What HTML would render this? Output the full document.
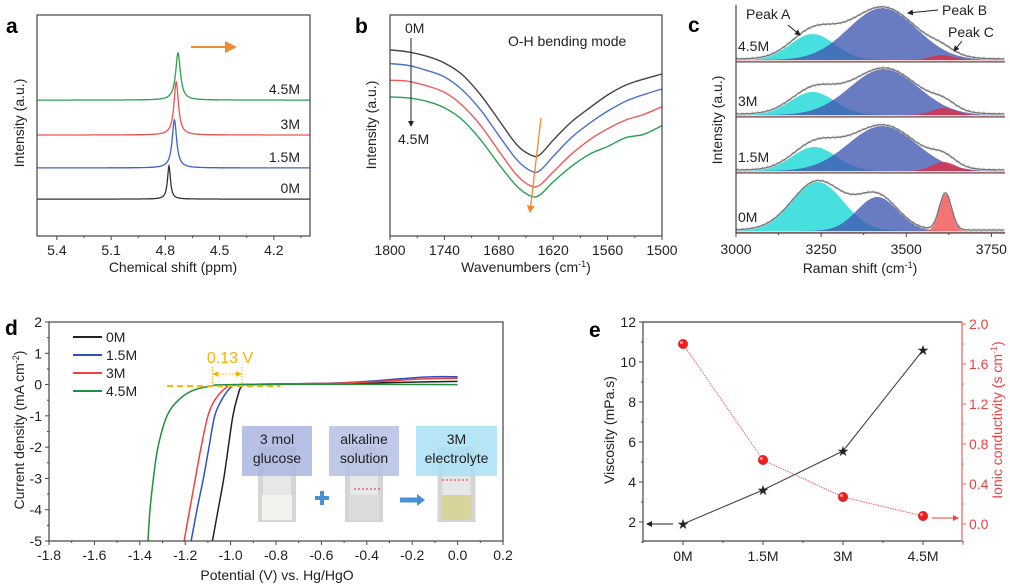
<!DOCTYPE html>
<html><head><meta charset="utf-8">
<style>
body{margin:0;background:#fff;}
svg{display:block;font-family:"Liberation Sans",Arial,sans-serif;}
.tk{font-size:14px;fill:#222;}
.ttl{font-size:14px;fill:#222;}
.pl{font-size:21px;font-weight:bold;fill:#000;}
</style></head>
<body>
<svg id="fig" width="1010" height="588" viewBox="0 0 1010 588">
<defs>
<marker id="ah" markerWidth="6" markerHeight="6" refX="5" refY="3" orient="auto"><path d="M0,0 L6,3 L0,6 z" fill="#222"/></marker>
<marker id="aho" markerWidth="6" markerHeight="6" refX="5" refY="3" orient="auto"><path d="M0,0 L6,3 L0,6 z" fill="#f08a30"/></marker>
<marker id="ahr" markerWidth="6" markerHeight="6" refX="5" refY="3" orient="auto"><path d="M0,0 L6,3 L0,6 z" fill="#f04040"/></marker>
<marker id="ahy" markerWidth="6" markerHeight="6" refX="5" refY="3" orient="auto"><path d="M0,0 L6,3 L0,6 z" fill="#f5b400"/></marker>
<marker id="ahys" markerWidth="6" markerHeight="6" refX="1" refY="3" orient="auto"><path d="M6,0 L0,3 L6,6 z" fill="#f5b400"/></marker>
</defs>
</svg>
<script>
// ---------- DATA ----------
// panel a
const aLabels = ["0M","1.5M","3M","4.5M"];
const aBaselines = [16.7,30.8,45.7,61.5];
const aPeakCenters = [4.78,4.75,4.74,4.73];
const aPeakHeights = [15,21.7,24,21.3];
const aPeakWidths = [0.010,0.015,0.015,0.016];
const aTicks = [5.4,5.1,4.8,4.5,4.2];
// panel b
const bWavenumbers = [1800,1780,1760,1740,1720,1700,1680,1660,1645,1635,1620,1600,1580,1560,1540,1520,1500];
const b0M = [84.2,83.3,81.4,78.3,72.9,63.8,52.5,41.2,36.7,36.7,43.4,51.6,57.9,63.8,68.3,71.0,73.3];
const b15M = [78.0,77.2,75.0,72.0,66.0,57.0,45.5,34.5,29.5,29.5,36.0,44.5,51.0,56.5,61.0,64.0,66.5];
const b3M = [70.5,70.0,68.0,65.0,59.0,50.0,38.5,27.5,22.7,23.0,29.0,37.0,43.5,48.5,52.5,55.0,58.5];
const b45M = [62.9,62.5,61.0,58.0,52.5,43.5,32.5,22.5,18.1,18.5,24.5,31.5,37.0,40.5,44.5,46.0,50.0];
const bTicks = [1800,1740,1680,1620,1560,1500];
// panel c (rows top to bottom: 4.5M,3M,1.5M,0M)
const cLabels = ["4.5M","3M","1.5M","0M"];
const cPeakACenter = [3225,3225,3230,3240];
const cPeakAHeight = [26,23,24,49];
const cPeakAWidth = [65,65,65,75];
const cPeakBCenter = [3430,3435,3430,3415];
const cPeakBHeight = [52,46,45,34];
const cPeakBWidth = [100,100,100,60];
const cPeakCCenter = [3605,3610,3610,3615];
const cPeakCHeight = [5,7,9,37];
const cPeakCWidth = [35,35,35,18];
const cTicks = [3000,3250,3500,3750];
// panel d
const d0MV = [-1.08,-1.055,-1.03,-1.01,-0.99,-0.97,-0.95,-0.9,-0.5,-0.2,0];
const d0MJ = [-5,-4,-3,-2,-1,-0.4,-0.05,0,0.03,0.08,0.1];
const d15MV = [-1.174,-1.148,-1.12,-1.095,-1.07,-1.04,-1.0,-0.95,-0.5,-0.15,0];
const d15MJ = [-5,-4,-3,-2,-1,-0.5,-0.1,0,0.06,0.24,0.25];
const d3MV = [-1.205,-1.18,-1.155,-1.13,-1.1,-1.07,-1.02,-0.97,-0.5,-0.15,0];
const d3MJ = [-5,-4,-3,-2,-1,-0.5,-0.1,0,0.05,0.18,0.2];
const d45MV = [-1.364,-1.355,-1.34,-1.32,-1.28,-1.23,-1.17,-1.09,-1.0,-0.5,0];
const d45MJ = [-5,-4,-3,-2,-1,-0.5,-0.2,-0.05,0,0.01,0];
const dXTicks = [-1.8,-1.6,-1.4,-1.2,-1.0,-0.8,-0.6,-0.4,-0.2,0.0,0.2];
const dYTicks = [2,1,0,-1,-2,-3,-4,-5];
// panel e
const eCategories = ["0M","1.5M","3M","4.5M"];
const eViscosity = [1.9,3.6,5.55,10.6];
const eConductivity = [1.8,0.64,0.27,0.08];
const eLeftTicks = [2,4,6,8,10,12];
const eRightTicks = [0.0,0.4,0.8,1.2,1.6,2.0];

// ---------- HELPERS ----------
const svg = document.getElementById('fig');
const NS = 'http://www.w3.org/2000/svg';
function mk(tag, attrs, parent){ const e=document.createElementNS(NS,tag); for(const k in attrs) e.setAttribute(k,attrs[k]); (parent||svg).appendChild(e); return e; }
function txt(x,y,s,cls,anchor,parent,extra){
 const ex=Object.assign({},extra||{}); let st='';
 if(ex.fill){ st+='fill:'+ex.fill+';'; delete ex.fill; }
 if(ex['font-size']){ st+='font-size:'+ex['font-size']+'px;'; delete ex['font-size']; }
 const a=Object.assign({x:x,y:y,class:cls,'text-anchor':anchor||'middle'},ex); if(st) a.style=st;
 const t=mk('text',a,parent); t.textContent=s; return t; }
function lin(d0,d1,r0,r1){ return v=> r0+(v-d0)/(d1-d0)*(r1-r0); }
function pts(xs,ys,fx,fy){ return xs.map((v,i)=>fx(v).toFixed(1)+','+fy(ys[i]).toFixed(1)).join(' '); }
function smooth(xs,ys,fx,fy){
 const P=xs.map((v,i)=>[fx(v),fy(ys[i])]);
 let d='M'+P[0][0].toFixed(1)+','+P[0][1].toFixed(1);
 for(let i=0;i<P.length-1;i++){
  const p0=P[Math.max(0,i-1)],p1=P[i],p2=P[i+1],p3=P[Math.min(P.length-1,i+2)];
  const c1=[p1[0]+(p2[0]-p0[0])/6,p1[1]+(p2[1]-p0[1])/6], c2=[p2[0]-(p3[0]-p1[0])/6,p2[1]-(p3[1]-p1[1])/6];
  d+=' C'+c1.map(v=>v.toFixed(1)).join(',')+' '+c2.map(v=>v.toFixed(1)).join(',')+' '+p2.map(v=>v.toFixed(1)).join(',');
 }
 return d;
}
function box(x0,y0,x1,y1,g){ mk('rect',{x:x0,y:y0,width:x1-x0,height:y1-y0,fill:'none',stroke:'#444','stroke-width':1.2},g); }

// ---------- PANEL A ----------
(function(){
 const g=mk('g',{});
 
 
 const X=lin(5.51,4.0,37,310), Y=lin(0,100,236,15);
 const cols=['#333','#3a62c8','#f05050','#2aa050'];
 for(let i=0;i<4;i++){
  const xs=[],ys=[];
  for(let p=5.51;p>=4.0;p-=0.002){ xs.push(p); const d=(p-aPeakCenters[i])/aPeakWidths[i]; ys.push(aBaselines[i]+aPeakHeights[i]/(1+d*d)); }
  const l=mk('polyline',{points:pts(xs,ys,X,Y),fill:'none',stroke:cols[i],'stroke-width':1.3},g);
  
  
  const t=txt(300,Y(aBaselines[i])-6,aLabels[i],'tk','end',g);
  
  
 }
 box(37,15,310,236,g);
 aTicks.forEach(v=>{ mk('line',{x1:X(v),x2:X(v),y1:236,y2:240,stroke:'#444'},g); txt(X(v),255,v.toFixed(1),'tk','middle',g); mk('line',{x1:X(v-0.15),x2:X(v-0.15),y1:236,y2:238,stroke:'#444'},g); });
 mk('line',{x1:191,y1:47,x2:235,y2:47,stroke:'#f08a30','stroke-width':2,'marker-end':'url(#aho)'},g);
 txt(173,272,'Chemical shift (ppm)','ttl','middle',g);
 txt(0,0,'Intensity (a.u.)','ttl','middle',g,{transform:'translate(24,123) rotate(-90)'});
 txt(6,33,'a','pl','start',g);
})();

// ---------- PANEL B ----------
(function(){
 const g=mk('g',{});
 
 
 const X=lin(1800,1500,390,662), Y=lin(0,100,236,15);
 const series=[b0M,b15M,b3M,b45M], cols=['#444','#4a70d0','#f05a5a','#2aa050'], names=['0M','1.5M','3M','4.5M'];
 series.forEach((s,i)=>{ const l=mk('path',{d:smooth(bWavenumbers,s,X,Y),fill:'none',stroke:cols[i],'stroke-width':1.4},g);
  
   });
 box(390,15,662,236,g);
 bTicks.forEach(v=>{ mk('line',{x1:X(v),x2:X(v),y1:236,y2:240,stroke:'#444'},g); txt(X(v),255,String(v),'tk','middle',g); if(v>1500) mk('line',{x1:X(v-30),x2:X(v-30),y1:236,y2:238,stroke:'#444'},g); });
 txt(405,33,'0M','tk','start',g); txt(398,144,'4.5M','tk','start',g);
 mk('line',{x1:411,y1:38,x2:411,y2:126,stroke:'#222','stroke-width':1,'marker-end':'url(#ah)'},g);
 txt(508,46,'O-H bending mode','tk','start',g);
 mk('line',{x1:541,y1:118,x2:530,y2:212,stroke:'#f08a30','stroke-width':1.3,'marker-end':'url(#aho)'},g);
 const t=txt(526,272,'Wavenumbers (cm','ttl','middle',g); const ts=mk('tspan',{dy:-5,'font-size':9},t); ts.textContent='-1'; const t2=mk('tspan',{dy:5},t); t2.textContent=')';
 txt(0,0,'Intensity (a.u.)','ttl','middle',g,{transform:'translate(376,125) rotate(-90)'});
 txt(355,33,'b','pl','start',g);
})();

// ---------- PANEL C ----------
(function(){
 const g=mk('g',{});
 
 
 const X=lin(3000,3790,736,1005);
 const bases=[60,115,171,231];
 for(let i=0;i<4;i++){
  const Y=v=>bases[i]-v;
  const xs=[]; for(let w=3000;w<=3790;w+=4) xs.push(w);
  const gs=(c,h,s)=>xs.map(w=>h*Math.exp(-0.5*((w-c)/s)**2));
  const A=gs(cPeakACenter[i],cPeakAHeight[i],cPeakAWidth[i]);
  const B=gs(cPeakBCenter[i],cPeakBHeight[i],cPeakBWidth[i]);
  const C=gs(cPeakCCenter[i],cPeakCHeight[i],cPeakCWidth[i]);
  const area=(arr)=> 'M'+X(3000)+','+Y(0)+' L'+pts(xs,arr,X,Y).split(' ').join(' L')+' L'+X(3790)+','+Y(0)+' Z';
  const pa=mk('path',{d:area(A),fill:'#38dcdc',opacity:0.92},g);
  
  
  const pb=mk('path',{d:area(B),fill:'#3f56b0',opacity:0.78},g);
  
  
  const pc=mk('path',{d:area(C),fill:i==3?'#f55a5a':'#d8304a',opacity:0.85},g);
  
  
  const S=xs.map((w,k)=>A[k]+B[k]+C[k]+1);
  mk('polyline',{points:pts(xs,S.map((v,k)=>v+1.5*Math.sin(k*1.7)),X,Y),fill:'none',stroke:'#ccc','stroke-width':1},g);
  const env=mk('polyline',{points:pts(xs,S,X,Y),fill:'none',stroke:'#777','stroke-width':1.3},g);
  
  
  mk('line',{x1:736,x2:1005,y1:bases[i]+1,y2:bases[i]+1,stroke:'#f0a0a0','stroke-width':1},g);
  txt(738,bases[i]-9,cLabels[i],'tk','start',g);
  if(i<3) mk('line',{x1:736,x2:1005,y1:bases[i]+2,y2:bases[i]+2,stroke:'#444','stroke-width':1},g);
 }
 mk('line',{x1:736,y1:5,x2:736,y2:233,stroke:'#444','stroke-width':1.2},g);
 mk('line',{x1:736,y1:233,x2:1005,y2:233,stroke:'#444','stroke-width':1.2},g);
 cTicks.forEach(v=>{ mk('line',{x1:X(v),x2:X(v),y1:233,y2:237,stroke:'#444'},g); txt(X(v),254,String(v),'tk','middle',g); mk('line',{x1:X(v+125),x2:X(v+125),y1:233,y2:235,stroke:'#444'},g); });
 txt(746,19,'Peak A','tk','start',g); txt(942,15,'Peak B','tk','start',g); txt(948,37,'Peak C','tk','start',g);
 mk('line',{x1:788,y1:25,x2:800,y2:35,stroke:'#222','marker-end':'url(#ah)'},g);
 mk('line',{x1:938,y1:10,x2:908,y2:13,stroke:'#222','marker-end':'url(#ah)'},g);
 mk('line',{x1:962,y1:41,x2:954,y2:51,stroke:'#222','marker-end':'url(#ah)'},g);
 const t=txt(860,273,'Raman shift (cm','ttl','middle',g); const ts=mk('tspan',{dy:-5,'font-size':9},t); ts.textContent='-1'; const t2=mk('tspan',{dy:5},t); t2.textContent=')';
 txt(0,0,'Intensity (a.u.)','ttl','middle',g,{transform:'translate(722,120) rotate(-90)'});
 txt(688,32,'c','pl','start',g);
})();

// ---------- PANEL D ----------
(function(){
 const g=mk('g',{});
 
 
 const X=lin(-1.8,0.2,49,503), Y=lin(2,-5,322,541);
 const ins=[[242,426,312,476,'#a9b6e0','3 mol','glucose','#f2f2ee'],[329,426,399,476,'#b4bfe4','alkaline','solution','#dcdcdc'],[416,426,497,476,'#a8e0f4','3M','electrolyte','#d6d49a']];
 ins.forEach((b,k)=>{
  const vx=(b[0]+b[2])/2;
  const v=mk('rect',{x:vx-19,y:447,width:38,height:75,fill:'#d4d5d5'},g);
  
  
  mk('rect',{x:vx-14,y:455,width:28,height:65,fill:'#e6e8e8'},g);
  mk('rect',{x:vx-15,y:495,width:30,height:25,fill:b[7]},g);
  const r=mk('rect',{x:b[0],y:b[1],width:b[2]-b[0],height:b[3]-b[1],fill:b[4],opacity:0.85},g);
  
  
  txt(vx,b[1]+18,b[5],'tk','middle',g); txt(vx,b[1]+37,b[6],'tk','middle',g);
 });
 mk('line',{x1:354,x2:380,y1:489,y2:489,stroke:'#e03030','stroke-dasharray':'2,2'},g);
 mk('line',{x1:442,x2:470,y1:480,y2:480,stroke:'#e03030','stroke-dasharray':'2,2'},g);
 mk('rect',{x:315,y:496,width:14,height:4,fill:'#4a90d8'},g);
 mk('rect',{x:320,y:491,width:4,height:14,fill:'#4a90d8'},g);
 mk('line',{x1:400,x2:418,y1:500,y2:500,stroke:'#4a90d8','stroke-width':5},g);
 mk('path',{d:'M417,494 L425,500 L417,506 Z',fill:'#4a90d8'},g);
 const S=[[d0MV,d0MJ,'#222','0M'],[d15MV,d15MJ,'#3050c0','1.5M'],[d3MV,d3MJ,'#f04040','3M'],[d45MV,d45MJ,'#20903a','4.5M']];
 S.forEach(s=>{ const l=mk('path',{d:smooth(s[0],s[1],X,Y),fill:'none',stroke:s[2],'stroke-width':1.5},g);
  
   });
 mk('line',{x1:X(-1.28),x2:X(-0.78),y1:Y(-0.05),y2:Y(-0.05),stroke:'#f5b400','stroke-width':2,'stroke-dasharray':'6,4'},g);
 mk('line',{x1:X(-1.08),x2:X(-1.08),y1:367,y2:386,stroke:'#f5b400','stroke-dasharray':'1.5,1.5'},g);
 mk('line',{x1:X(-0.95),x2:X(-0.95),y1:367,y2:386,stroke:'#f5b400','stroke-dasharray':'1.5,1.5'},g);
 mk('line',{x1:X(-1.08)+1,x2:X(-0.95)-1,y1:374,y2:374,stroke:'#f5b400','stroke-dasharray':'1.5,1.5','marker-end':'url(#ahy)','marker-start':'url(#ahys)'},g);
 txt(230,363,'0.13 V','tk','middle',g,{fill:'#f5b400','font-size':'16'});
 S.forEach((s,k)=>{ const yy=337+k*18; const lg=mk('line',{x1:73,x2:102,y1:yy,y2:yy,stroke:s[2],'stroke-width':2},g);
  
  
  txt(106,yy+5,s[3],'tk','start',g); });
 box(49,322,503,541,g);
 dXTicks.forEach(v=>{ mk('line',{x1:X(v),x2:X(v),y1:541,y2:545,stroke:'#444'},g); txt(X(v),560,v.toFixed(1),'tk','middle',g); if(v<0.2) mk('line',{x1:X(v+0.1),x2:X(v+0.1),y1:541,y2:543,stroke:'#444'},g); });
 dYTicks.forEach(v=>{ mk('line',{x1:45,x2:49,y1:Y(v),y2:Y(v),stroke:'#444'},g); txt(42,Y(v)+5,String(v),'tk','end',g); if(v>-5) mk('line',{x1:47,x2:49,y1:Y(v-0.5),y2:Y(v-0.5),stroke:'#444'},g); });
 txt(277,580,'Potential (V) vs. Hg/HgO','ttl','middle',g);
 const t=txt(0,0,'Current density (mA cm','ttl','middle',g,{transform:'translate(24,430) rotate(-90)'}); const ts=mk('tspan',{dy:-5,'font-size':9},t); ts.textContent='-2'; const t2=mk('tspan',{dy:5},t); t2.textContent=')';
 txt(5,335,'d','pl','start',g);
})();

// ---------- PANEL E ----------
(function(){
 const g=mk('g',{});
 
 
 const X=i=>683+i*80, YL=lin(1.05,12,541,322), YR=lin(-0.17,2.02,541,322);
 const idx=eCategories.map((c,i)=>i);
 mk('polyline',{points:pts(idx,eConductivity,X,YR),fill:'none',stroke:'#f06060','stroke-width':1,'stroke-dasharray':'1.5,1'},g);
 mk('polyline',{points:pts(idx,eViscosity,X,YL),fill:'none',stroke:'#444','stroke-width':1.1},g);
 idx.forEach(i=>{
  const c=mk('circle',{cx:X(i),cy:YR(eConductivity[i]),r:5,fill:'#e82020'},g);
  
  
  mk('circle',{cx:X(i)-1.5,cy:YR(eConductivity[i])-1.5,r:1.5,fill:'#ff9a9a'},g);
  const s=txt(X(i),YL(eViscosity[i])+5,'★','tk','middle',g,{'font-size':'14',fill:'#222'});
  
  
 });
 mk('line',{x1:673,x2:647,y1:524,y2:524,stroke:'#222','marker-end':'url(#ah)'},g);
 mk('line',{x1:932,x2:958,y1:518,y2:518,stroke:'#f04040','marker-end':'url(#ahr)'},g);
 mk('line',{x1:643,y1:322,x2:962,y2:322,stroke:'#444','stroke-width':1.2},g);
 mk('line',{x1:643,y1:322,x2:643,y2:541,stroke:'#444','stroke-width':1.2},g);
 mk('line',{x1:643,y1:541,x2:962,y2:541,stroke:'#444','stroke-width':1.2},g);
 mk('line',{x1:962,y1:322,x2:962,y2:541,stroke:'#f06060','stroke-width':1.2},g);
 idx.forEach(i=>{ mk('line',{x1:X(i),x2:X(i),y1:541,y2:545,stroke:'#444'},g); txt(X(i),561,eCategories[i],'tk','middle',g); mk('line',{x1:X(i)+40,x2:X(i)+40,y1:541,y2:543,stroke:'#444'},g); });
 mk('line',{x1:X(0)-40,x2:X(0)-40,y1:541,y2:543,stroke:'#444'},g);
 eLeftTicks.forEach(v=>{ mk('line',{x1:639,x2:643,y1:YL(v),y2:YL(v),stroke:'#444'},g); txt(636,YL(v)+5,String(v),'tk','end',g); mk('line',{x1:641,x2:643,y1:YL(v-1),y2:YL(v-1),stroke:'#444'},g); });
 eRightTicks.forEach(v=>{ mk('line',{x1:962,x2:966,y1:YR(v),y2:YR(v),stroke:'#f06060'},g); txt(969,YR(v)+5,v.toFixed(1),'tk','start',g,{fill:'#f04040'}); mk('line',{x1:962,x2:964,y1:YR(v-0.2),y2:YR(v-0.2),stroke:'#f06060'},g); });
 txt(0,0,'Viscosity (mPa.s)','ttl','middle',g,{transform:'translate(614,430) rotate(-90)'});
 const t=txt(0,0,'Ionic conductivity (s cm','ttl','middle',g,{transform:'translate(1002,420) rotate(-90)',fill:'#f04040'}); const ts=mk('tspan',{dy:-5,'font-size':9},t); ts.textContent='-1'; const t2=mk('tspan',{dy:5},t); t2.textContent=')';
 txt(589,337,'e','pl','start',g);
})();
</script>
</body></html>
